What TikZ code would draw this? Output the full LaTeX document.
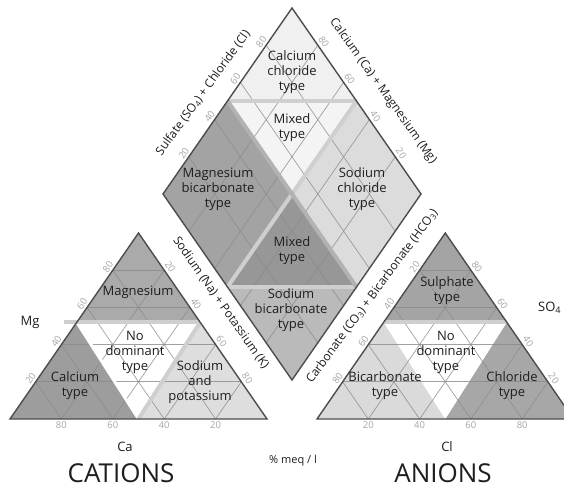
\documentclass[tikz,border=0pt]{standalone}
\usepackage{fontspec}
\setmainfont{Open Sans}
\usetikzlibrary{calc}
\definecolor{outl}{HTML}{4d4d4d}
\definecolor{gridc}{HTML}{8a8a8a}
\definecolor{tickc}{HTML}{a6a6a6}
\definecolor{txtc}{HTML}{1e1e1e}
\definecolor{rMg}{HTML}{aaaaaa}
\definecolor{rCa}{HTML}{9d9d9d}
\definecolor{rNa}{HTML}{dedede}
\definecolor{rSO}{HTML}{a4a4a4}
\definecolor{rHC}{HTML}{dadada}
\definecolor{rCl}{HTML}{a7a7a7}
\definecolor{dCaCl}{HTML}{f0f0f0}
\definecolor{dMixU}{HTML}{f4f4f4}
\definecolor{dMgB}{HTML}{a3a3a3}
\definecolor{dNaCl}{HTML}{dcdcdc}
\definecolor{dMixL}{HTML}{979797}
\definecolor{dNaB}{HTML}{bababa}
\definecolor{thl}{HTML}{cfcfcf}
\definecolor{thd}{HTML}{b2b2b2}
\tikzset{
 gridline/.style={draw=gridc, line width=0.7pt, opacity=0.8},
 outline/.style={draw=outl, line width=1.4pt, line join=miter},
 bandline/.style={draw=thl, line width=4pt},
 banddark/.style={draw=thd, line width=4pt},
 whiteband/.style={draw=white, line width=3pt},
 tick/.style={text=tickc, font=\fontsize{9.5}{9.5}\selectfont, inner sep=0pt},
 regtxt/.style={text=txtc, align=center, font=\fontsize{13}{15}\selectfont, inner sep=0pt},
 axtitle/.style={text=txtc, font=\fontsize{12}{12}\selectfont, inner sep=0pt},
 bigtxt/.style={text=txtc, font=\fontsize{26}{26}\selectfont, inner sep=0pt, anchor=base, text depth=0pt},
}
\begin{document}
\begin{tikzpicture}[x=1pt,y=-1pt]
\useasboundingbox (0,0) rectangle (564,489);
\fill[white] (0,0) rectangle (564,489);
\clip (0,0) rectangle (564,489);
\def\pp{0.52}
% vertices
\coordinate (cA) at (10,419);
\coordinate (cB) at (267,419);
\coordinate (cC) at (138.5,233);
\coordinate (aA) at (317,419);
\coordinate (aB) at (573.5,419);
\coordinate (aC) at (445.25,233);
\coordinate (dT) at (292,8);
\coordinate (dL) at (163,194);
\coordinate (dR) at (421,194);
\coordinate (dB) at (292,380);
% split points
\coordinate (cL) at ($(cA)!\pp!(cC)$);
\coordinate (cR) at ($(cB)!\pp!(cC)$);
\coordinate (cM) at ($(cA)!0.5!(cB)$);
\coordinate (aL) at ($(aA)!\pp!(aC)$);
\coordinate (aR) at ($(aB)!\pp!(aC)$);
\coordinate (aM) at ($(aA)!0.5!(aB)$);
\coordinate (mUL) at ($(dL)!0.5!(dT)$);
\coordinate (mUR) at ($(dR)!0.5!(dT)$);
\coordinate (mLL) at ($(dL)!0.5!(dB)$);
\coordinate (mLR) at ($(dR)!0.5!(dB)$);
\coordinate (dO) at ($(dL)!0.5!(dR)$);
% cation regions
\fill[rMg] (cL) -- (cC) -- (cR) -- cycle;
\fill[rCa] (cA) -- (cL) -- (cM) -- cycle;
\fill[rNa] (cB) -- (cR) -- (cM) -- cycle;
\fill[white] (cL) -- (cR) -- (cM) -- cycle;
% anion regions
\fill[rSO] (aL) -- (aC) -- (aR) -- cycle;
\fill[rHC] (aA) -- (aL) -- (aM) -- cycle;
\fill[rCl] (aB) -- (aR) -- (aM) -- cycle;
\fill[white] (aL) -- (aR) -- (aM) -- cycle;
% diamond regions
\fill[dCaCl] (dT) -- (mUL) -- (mUR) -- cycle;
\fill[dMixU] (mUL) -- (mUR) -- (dO) -- cycle;
\fill[dMgB] (dL) -- (mUL) -- (dO) -- (mLL) -- cycle;
\fill[dNaCl] (dR) -- (mUR) -- (dO) -- (mLR) -- cycle;
\fill[dMixL] (dO) -- (mLL) -- (mLR) -- cycle;
\fill[dNaB] (dB) -- (mLL) -- (mLR) -- cycle;
% grids
\foreach \t [evaluate=\t as \u using 1-\t] in {0.2,0.4,0.6,0.8} {
  \draw[gridline] ($(cA)!\t!(cC)$) -- ($(cB)!\t!(cC)$);
  \draw[gridline] ($(cA)!\t!(cB)$) -- ($(cB)!\u!(cC)$);
  \draw[gridline] ($(cA)!\t!(cB)$) -- ($(cA)!\t!(cC)$);
  \draw[gridline] ($(aA)!\t!(aC)$) -- ($(aB)!\t!(aC)$);
  \draw[gridline] ($(aA)!\t!(aB)$) -- ($(aB)!\u!(aC)$);
  \draw[gridline] ($(aA)!\t!(aB)$) -- ($(aA)!\t!(aC)$);
  \draw[gridline] ($(dB)!\t!(dL)$) -- ($(dR)!\t!(dT)$);
  \draw[gridline] ($(dB)!\t!(dR)$) -- ($(dL)!\t!(dT)$);
}
% band lines
\draw[whiteband] (cL) -- (cM);
\draw[bandline] ($(cL)+(-13,0)$) -- (cR);
\draw[bandline] (cR) -- (cM);
\draw[bandline] (aL) -- (aR);
\draw[bandline] (mUL) -- (mUR);
\draw[bandline] (mLL) -- (mLR);
\draw[bandline] (mUR) -- (mLL);
\draw[banddark] (mUL) -- (mLR);
% outlines
\draw[outline] (cA) -- (cB) -- (cC) -- cycle;
\draw[outline] (aA) -- (aB) -- (aC) -- cycle;
\draw[outline] (dT) -- (dL) -- (dB) -- (dR) -- cycle;
% tick labels
\foreach \t/\v/\w in {0.2/20/80,0.4/40/60,0.6/60/40,0.8/80/20} {
  \node[tick, rotate=55.4] (tcl\v) at ($(cA)!\t!(cC)+(-5,-3.5)$) {\v};
  \node[tick, rotate=-55.4] (tcr\v) at ($(cC)!\t!(cB)+(6,-3.5)$) {\v};
  \node[tick] (tcb\v) at ($(cA)!\t!(cB)+(0,6.5)$) {\w};
  \node[tick] (tab\v) at ($(aA)!\t!(aB)+(0,6.5)$) {\v};
  \node[tick, rotate=55.4] (tal\v) at ($(aC)!\t!(aA)+(-5,-3.5)$) {\v};
  \node[tick, rotate=-55.4] (tar\v) at ($(aB)!\t!(aC)+(6,-3.5)$) {\v};
  \node[tick, rotate=55.4] (tdl\v) at ($(dL)!\t!(dT)+(-5,-3.5)$) {\v};
  \node[tick, rotate=-55.4] (tdr\v) at ($(dR)!\t!(dT)+(6,-3.5)$) {\v};
}
% region labels
\node[regtxt] (lCaCl) at (292,72) {Calcium\\chloride\\type};
\node[regtxt] (lMixU) at (292,128) {Mixed\\type};
\node[regtxt] (lMgB) at (218,189) {Magnesium\\bicarbonate\\type};
\node[regtxt] (lNaCl) at (362,189) {Sodium\\chloride\\type};
\node[regtxt] (lMixL) at (292,251) {Mixed\\type};
\node[regtxt] (lNaB) at (291,310) {Sodium\\bicarbonate\\type};
\node[regtxt] (lMg) at (138,292) {Magnesium};
\node[regtxt] (lNoC) at (135,352) {No\\dominant\\type};
\node[regtxt] (lCa) at (75,386) {Calcium\\type};
\node[regtxt] (lNa) at (200,382) {Sodium\\and\\potassium};
\node[regtxt] (lSO) at (447,291) {Sulphate\\type};
\node[regtxt] (lNoA) at (446,352) {No\\dominant\\type};
\node[regtxt] (lHC) at (385,386) {Bicarbonate\\type};
\node[regtxt] (lCl) at (512,386) {Chloride\\type};
% axis titles
\node[axtitle, rotate=54] (tSul) at (203,93) {Sulfate (SO\textsubscript{4}) + Chloride (Cl)};
\node[axtitle, rotate=-54.5] (tCaMg) at (383,91) {Calcium (Ca) + Magnesium (Mg)};
\node[axtitle, rotate=-55] (tNaK) at (221,303) {Sodium (Na) + Potassium (K)};
\node[axtitle, rotate=53.5] (tCO) at (372,296) {Carbonate (CO\textsubscript{3}) + Bicarbonate (HCO\textsubscript{3})};
\node[regtxt] (xMg) at (30,322) {Mg};
\node[regtxt] (xCa) at (125,447) {Ca};
\node[regtxt] (xCl) at (447,447) {Cl};
\node[regtxt, anchor=west] (xSO) at (538,308) {SO\textsubscript{4}};
\node[regtxt, font=\fontsize{11}{11}\selectfont] (xmeq) at (293,461) {\% meq / l};
\node[bigtxt] (xCat) at (121,482) {CATIONS};
\node[bigtxt] (xAn) at (443,482) {ANIONS};
\end{tikzpicture}
\end{document}
